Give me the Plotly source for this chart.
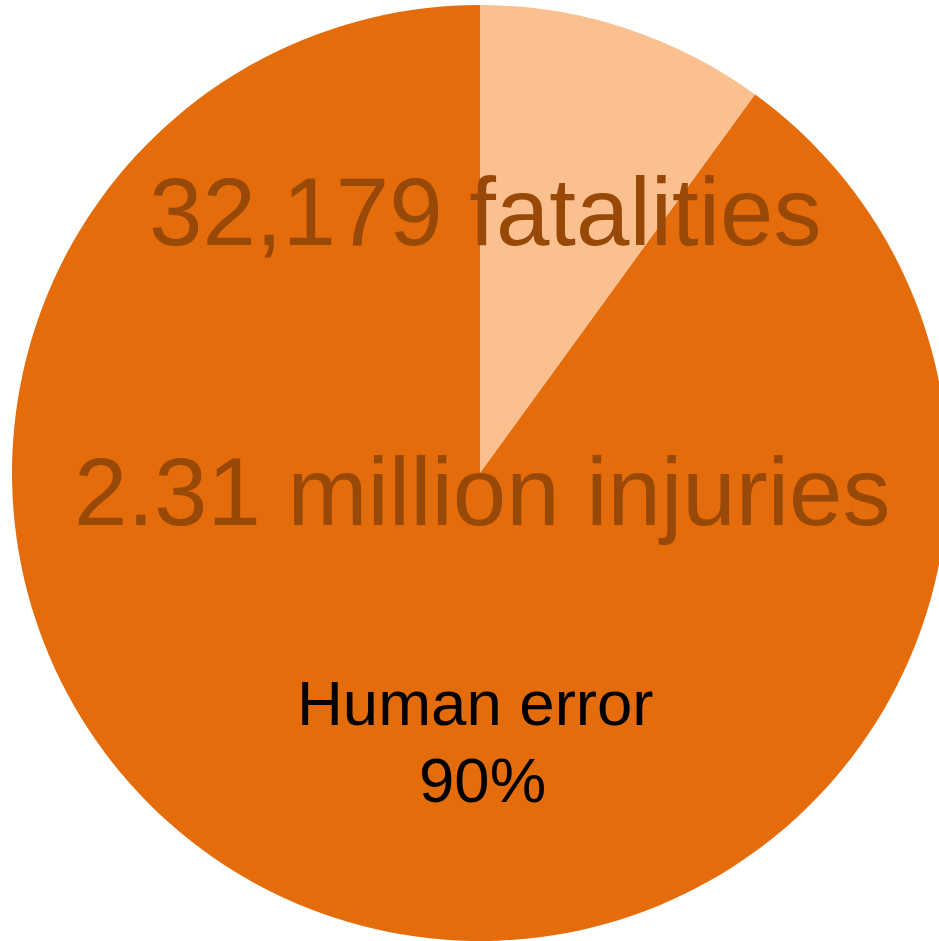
import plotly.graph_objects as go

labels = ["Other factors", "Human error"]
values = [10, 90]
colors = ["#FAC090", "#E46C0A"]

W, H = 948, 941
ML, MT = 12, 5
SIDE = 936

def px(x):
    return (x - ML) / SIDE

def py(y):
    return 1 - (y - MT) / SIDE

fig = go.Figure(go.Pie(
    labels=labels, values=values, sort=False, direction="clockwise", rotation=0,
    marker=dict(colors=colors, line=dict(width=0)),
    textinfo="none", hoverinfo="label+percent", showlegend=False,
))

font_big = dict(family="Liberation Sans, Arial", size=96, color="#984807")
font_small = dict(family="Liberation Sans, Arial", size=63.5, color="#000000")
fig.add_annotation(text="32,179 fatalities", x=px(485), y=py(211), xref="paper", yref="paper",
                   showarrow=False, font=font_big, xanchor="center", yanchor="middle")
fig.add_annotation(text="2.31 million injuries", x=px(481.5), y=py(491), xref="paper", yref="paper",
                   showarrow=False, font=font_big, xanchor="center", yanchor="middle")
fig.add_annotation(text="Human error", x=px(474.5), y=py(703), xref="paper", yref="paper",
                   showarrow=False, font=font_small, xanchor="center", yanchor="middle")
fig.add_annotation(text="90%", x=px(482), y=py(780), xref="paper", yref="paper",
                   showarrow=False, font=font_small, xanchor="center", yanchor="middle")

fig.update_layout(width=W, height=H, margin=dict(l=ML, r=0, t=MT, b=0),
                  paper_bgcolor="white", plot_bgcolor="white")

fig.write_html("out.html", post_script="document.documentElement.style.overflow='hidden';document.body.style.overflow='hidden';")
